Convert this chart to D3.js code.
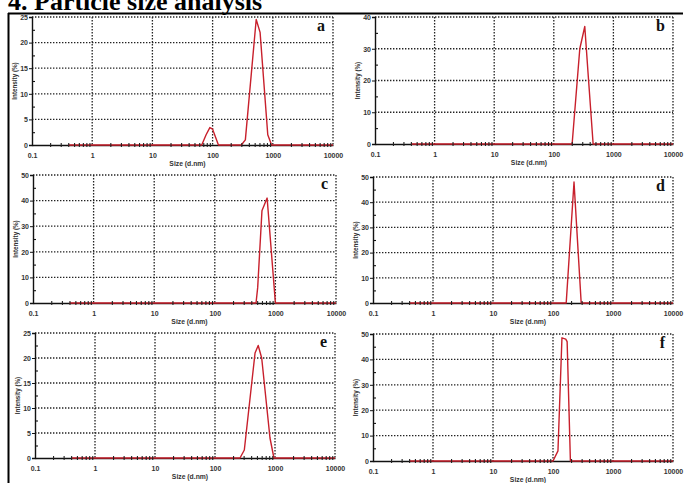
<!DOCTYPE html>
<html>
<head>
<meta charset="utf-8">
<script src="https://cdn.jsdelivr.net/npm/d3@7"></script>
<style>
  body { margin: 0; background: #fff; }
  svg { display: block; }
  .tick text { font-family: Arial, "Liberation Sans", sans-serif; font-weight: bold; fill: #333; }
</style>
</head>
<body>
<div id="chart"></div>
<script>
"use strict";

// size ticks (log axis), same for every panel
var xTicks = [0.1, 1, 10, 100, 1000, 10000];
var panelLetters = ["a", "b", "c", "d", "e", "f"];
var yMax = [25, 40, 50, 50, 25, 50];
var yStep = [5, 10, 10, 10, 5, 10];

// intensity distributions (size in d.nm, intensity in %)
var sizeA = [0.4, 66, 78, 90, 100, 112, 125, 300, 350, 530, 615, 825, 955, 10000];
var intensityA = [0, 0, 2, 3.4, 3.1, 1.5, 0, 0, 1, 24.5, 22, 2, 0, 0];
var sizeB = [0.4, 203, 273, 331, 380, 457, 10000];
var intensityB = [0, 0, 30, 37, 21, 0, 0];
var sizeC = [0.4, 479, 510, 600, 730, 1000, 10000];
var intensityC = [0, 0, 6, 36, 41, 0, 0];
var sizeD = [0.4, 166, 224, 295, 10000];
var intensityD = [0, 0, 48, 0, 0];
var sizeE = [0.4, 261, 308, 465, 525, 600, 825, 960, 10000];
var intensityE = [0, 0, 1.6, 21, 22.5, 20, 4, 0, 0];
var sizeF = [0.4, 100, 121, 141, 163, 172, 195, 10000];
var intensityF = [0, 0, 4, 48.5, 48, 47, 0, 0];

var sizes = [sizeA, sizeB, sizeC, sizeD, sizeE, sizeF];
var intensities = [intensityA, intensityB, intensityC, intensityD, intensityE, intensityF];

// plot boxes of the six panels (left, right, top, bottom)
var boxes = [
    [32, 333, 17, 145],
    [375, 673, 17, 144],
    [33, 336, 175, 303],
    [373, 673, 177, 303],
    [35, 335, 333, 458],
    [373, 673, 334, 461]
];

var width = 685, height = 483;
var svg = d3.select("#chart").append("svg")
    .attr("width", width)
    .attr("height", height);

svg.append("rect").attr("width", width).attr("height", height).attr("fill", "#fff");

// heading, cut at the top like the scan
svg.append("text")
    .attr("x", 8)
    .attr("y", 10)
    .attr("font-family", "'Liberation Serif', 'Times New Roman', serif")
    .attr("font-weight", "bold")
    .attr("font-size", 26)
    .attr("fill", "#000")
    .text("4. Particle size analysis");

// table frame
svg.append("line").attr("x1", 8).attr("x2", 683).attr("y1", 13.5).attr("y2", 13.5)
    .attr("stroke", "#000").attr("stroke-width", 2.2);
svg.append("line").attr("x1", 8.5).attr("x2", 8.5).attr("y1", 13).attr("y2", height)
    .attr("stroke", "#000").attr("stroke-width", 2);

var redLine = "#c8202c";

boxes.forEach(function (b, i) {
    var x = d3.scaleLog().domain([0.1, 10000]).range([b[0], b[1]]);
    var y = d3.scaleLinear().domain([0, yMax[i]]).range([b[3], b[2]]);
    var yTicks = d3.range(0, yMax[i] + 0.01, yStep[i]);
    var yMinor = d3.range(yStep[i] / 2, yMax[i], yStep[i]);
    var xMinor = [];
    xTicks.slice(0, -1).forEach(function (d) {
        for (var k = 2; k <= 9; k++) xMinor.push(d * k);
    });

    var g = svg.append("g");

    // dotted grid
    g.append("g").selectAll("line")
        .data(yTicks.slice(1))
        .enter().append("line")
        .attr("x1", b[0]).attr("x2", b[1])
        .attr("y1", function (d) { return y(d); })
        .attr("y2", function (d) { return y(d); })
        .attr("stroke", "#222").attr("stroke-width", 1.3)
        .attr("stroke-dasharray", "1.4,1.6");
    g.append("g").selectAll("line")
        .data(xTicks.slice(1))
        .enter().append("line")
        .attr("x1", function (d) { return x(d); })
        .attr("x2", function (d) { return x(d); })
        .attr("y1", b[2]).attr("y2", b[3])
        .attr("stroke", "#222").attr("stroke-width", 1.3)
        .attr("stroke-dasharray", "1.4,1.6");

    // x axis with labels
    var xAxis = g.append("g")
        .attr("transform", "translate(0," + b[3] + ")")
        .call(d3.axisBottom(x).tickValues(xTicks).tickSize(0).tickPadding(8)
            .tickFormat(function (d) { return String(d); }));
    xAxis.select(".domain").attr("stroke", "#111").attr("stroke-width", 1.3);
    xAxis.selectAll(".tick text").attr("font-size", 7);

    // y axis
    var yAxis = g.append("g")
        .attr("transform", "translate(" + b[0] + ",0)")
        .call(d3.axisLeft(y).tickValues(yTicks).tickSize(3).tickPadding(1)
            .tickFormat(d3.format("d")));
    yAxis.select(".domain").attr("stroke", "#111").attr("stroke-width", 1.4);
    yAxis.selectAll(".tick line").attr("stroke", "#111");
    yAxis.selectAll(".tick text").attr("font-size", 7);

    var yMinorAxis = g.append("g")
        .attr("transform", "translate(" + b[0] + ",0)")
        .call(d3.axisRight(y).tickValues(yMinor).tickSize(3).tickFormat(""));
    yMinorAxis.select(".domain").remove();
    yMinorAxis.selectAll(".tick line").attr("stroke", "#111").attr("stroke-width", 1.1);

    // axis titles
    g.append("text")
        .attr("transform", "translate(" + (b[0] - 15) + "," + ((b[2] + b[3]) / 2) + ") rotate(-90)")
        .attr("text-anchor", "middle")
        .attr("font-family", "Arial, 'Liberation Sans', sans-serif")
        .attr("font-weight", "bold")
        .attr("font-size", 6.3)
        .attr("fill", "#333")
        .text("Intensity (%)");
    g.append("text")
        .attr("x", (b[0] + b[1]) / 2 + 5)
        .attr("y", b[3] + 21)
        .attr("text-anchor", "middle")
        .attr("font-family", "Arial, 'Liberation Sans', sans-serif")
        .attr("font-weight", "bold")
        .attr("font-size", 6.8)
        .attr("fill", "#333")
        .text("Size (d.nm)");

    // distribution curve
    var pts = sizes[i].map(function (s, k) { return [s, intensities[i][k]]; });
    g.append("path")
        .datum(pts)
        .attr("fill", "none")
        .attr("stroke", redLine)
        .attr("stroke-width", 1.4)
        .attr("stroke-linejoin", "round")
        .attr("d", d3.line()
            .x(function (d) { return x(d[0]); })
            .y(function (d) { return y(d[1]); }));

    // minor size ticks crossing the axis, drawn over the curve's baseline
    var xMinorAxis = g.append("g")
        .attr("transform", "translate(0," + (b[3] + 2) + ")")
        .call(d3.axisBottom(x).tickValues(xMinor).tickSize(-4).tickFormat(""));
    xMinorAxis.select(".domain").remove();
    xMinorAxis.selectAll(".tick line").attr("stroke", "#222").attr("stroke-width", 1.1);

    // panel letter
    g.append("text")
        .attr("x", b[1] - 8)
        .attr("y", b[2] + 14)
        .attr("text-anchor", "end")
        .attr("font-family", "'Liberation Serif', 'Times New Roman', serif")
        .attr("font-weight", "bold")
        .attr("font-size", 16)
        .attr("fill", "#111")
        .text(panelLetters[i]);
});
</script>
</body>
</html>
